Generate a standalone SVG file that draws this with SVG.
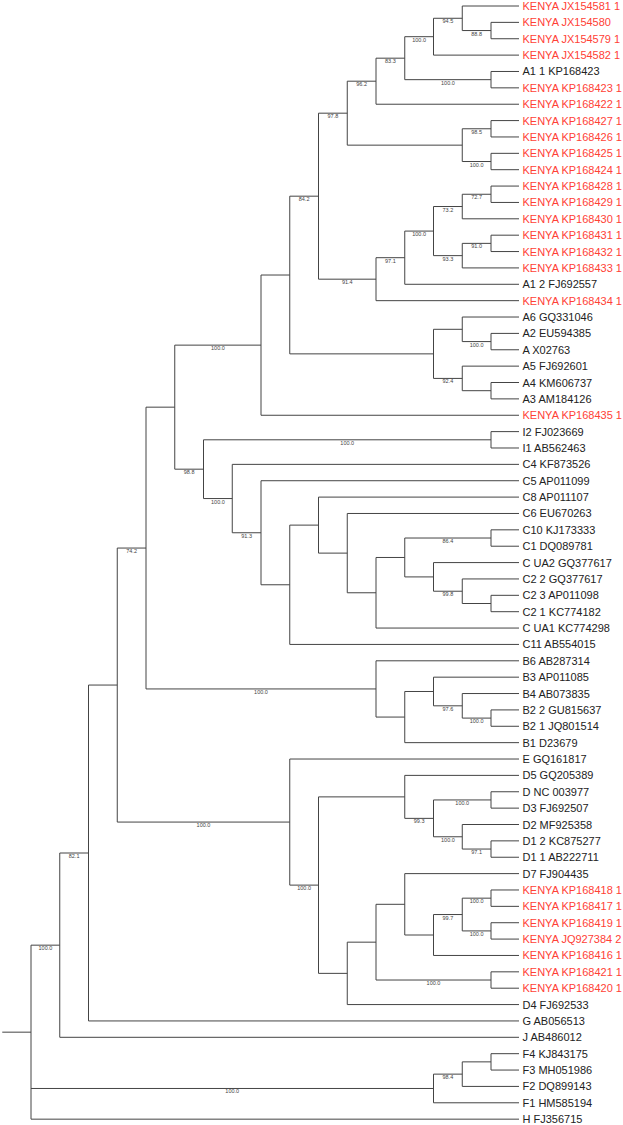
<svg xmlns="http://www.w3.org/2000/svg" width="623" height="1125" viewBox="0 0 623 1125">
<style>
.e{fill:none;stroke:#444;stroke-width:1}
.t{font-family:"Liberation Sans",Arial,sans-serif;font-size:11px;fill:#222}
.k{fill:#ff4136}
.s{font-family:"Liberation Sans",Arial,sans-serif;font-size:5.5px;fill:#444;text-anchor:middle}
</style>
<rect width="623" height="1125" fill="#fff"/>
<g id="connectors" class="e">
<path d="M2.25,1032.16H31M31,945.16V1119.16M31,945.16H59.75M31,1088.47H433.5M31,1119.16H519"/>
<path d="M59.75,853V1037.31M59.75,853H88.5M59.75,1037.31H519"/>
<path d="M88.5,685.06V1020.94M88.5,685.06H117.25M88.5,1020.94H519"/>
<path d="M117.25,548.05V822.07M117.25,548.05H146M117.25,822.07H289.75"/>
<path d="M146,407.16V688.94M146,407.16H174.75M146,688.94H376"/>
<path d="M174.75,345.14V469.18M174.75,345.14H261M174.75,469.18H203.5"/>
<path d="M261,275.02V415.25M261,275.02H289.75M261,415.25H519"/>
<path d="M289.75,196.18V353.87M289.75,196.18H318.5M289.75,353.87H433.5"/>
<path d="M318.5,113.18V279.18M318.5,113.18H347.25M318.5,279.18H376"/>
<path d="M347.25,81.2V145.15M347.25,81.2H376M347.25,145.15H462.25"/>
<path d="M376,58.18V104.22M376,58.18H404.75M376,104.22H519"/>
<path d="M404.75,36.7V79.67M404.75,36.7H433.5M404.75,79.67H491"/>
<path d="M433.5,18.28V55.11M433.5,18.28H462.25M433.5,55.11H519"/>
<path d="M462.25,6V30.56M462.25,6H519M462.25,30.56H491"/>
<path d="M491,22.37V38.74M491,22.37H519M491,38.74H519"/>
<path d="M491,71.48V87.85M491,71.48H519M491,87.85H519"/>
<path d="M462.25,128.78V161.52M462.25,128.78H491M462.25,161.52H491"/>
<path d="M491,120.59V136.96M491,120.59H519M491,136.96H519"/>
<path d="M491,153.33V169.7M491,153.33H519M491,169.7H519"/>
<path d="M376,257.69V300.66M376,257.69H404.75M376,300.66H519"/>
<path d="M404.75,231.09V284.29M404.75,231.09H433.5M404.75,284.29H519"/>
<path d="M433.5,206.53V255.64M433.5,206.53H462.25M433.5,255.64H462.25"/>
<path d="M462.25,194.26V218.81M462.25,194.26H491M462.25,218.81H519"/>
<path d="M491,186.07V202.44M491,186.07H519M491,202.44H519"/>
<path d="M462.25,243.37V267.92M462.25,243.37H491M462.25,267.92H519"/>
<path d="M491,235.18V251.55M491,235.18H519M491,251.55H519"/>
<path d="M433.5,329.31V378.42M433.5,329.31H462.25M433.5,378.42H462.25"/>
<path d="M462.25,317.03V341.59M462.25,317.03H519M462.25,341.59H491"/>
<path d="M491,333.4V349.77M491,333.4H519M491,349.77H519"/>
<path d="M462.25,366.14V390.7M462.25,366.14H519M462.25,390.7H491"/>
<path d="M491,382.51V398.88M491,382.51H519M491,398.88H519"/>
<path d="M203.5,439.81V498.56M203.5,439.81H491M203.5,498.56H232.25"/>
<path d="M491,431.62V447.99M491,431.62H519M491,447.99H519"/>
<path d="M232.25,464.36V532.75M232.25,464.36H519M232.25,532.75H261"/>
<path d="M261,480.73V584.77M261,480.73H519M261,584.77H289.75"/>
<path d="M289.75,525.11V644.43M289.75,525.11H318.5M289.75,644.43H519"/>
<path d="M318.5,497.1V553.12M318.5,497.1H519M318.5,553.12H347.25"/>
<path d="M347.25,513.47V592.77M347.25,513.47H519M347.25,592.77H376"/>
<path d="M376,557.47V628.06M376,557.47H404.75M376,628.06H519"/>
<path d="M404.75,538.03V576.91M404.75,538.03H491M404.75,576.91H433.5"/>
<path d="M491,529.84V546.21M491,529.84H519M491,546.21H519"/>
<path d="M433.5,562.58V591.23M433.5,562.58H519M433.5,591.23H462.25"/>
<path d="M462.25,578.95V603.51M462.25,578.95H519M462.25,603.51H491"/>
<path d="M491,595.32V611.69M491,595.32H519M491,611.69H519"/>
<path d="M376,660.8V717.07M376,660.8H519M376,717.07H404.75"/>
<path d="M404.75,691.49V742.65M404.75,691.49H433.5M404.75,742.65H519"/>
<path d="M433.5,677.17V705.82M433.5,677.17H519M433.5,705.82H462.25"/>
<path d="M462.25,693.54V718.1M462.25,693.54H519M462.25,718.1H491"/>
<path d="M491,709.91V726.28M491,709.91H519M491,726.28H519"/>
<path d="M289.75,759.02V885.12M289.75,759.02H519M289.75,885.12H318.5"/>
<path d="M318.5,796.88V973.37M318.5,796.88H404.75M318.5,973.37H347.25"/>
<path d="M404.75,775.39V818.37M404.75,775.39H519M404.75,818.37H433.5"/>
<path d="M433.5,799.95V836.78M433.5,799.95H491M433.5,836.78H462.25"/>
<path d="M491,791.76V808.13M491,791.76H519M491,808.13H519"/>
<path d="M462.25,824.5V849.06M462.25,824.5H519M462.25,849.06H491"/>
<path d="M491,840.87V857.24M491,840.87H519M491,857.24H519"/>
<path d="M347.25,942.16V1004.57M347.25,942.16H376M347.25,1004.57H519"/>
<path d="M376,904.31V980.02M376,904.31H404.75M376,980.02H491"/>
<path d="M404.75,873.61V935M404.75,873.61H519M404.75,935H433.5"/>
<path d="M433.5,914.54V955.46M433.5,914.54H462.25M433.5,955.46H519"/>
<path d="M462.25,898.17V930.91M462.25,898.17H491M462.25,930.91H491"/>
<path d="M491,889.98V906.35M491,889.98H519M491,906.35H519"/>
<path d="M491,922.72V939.09M491,922.72H519M491,939.09H519"/>
<path d="M491,971.83V988.2M491,971.83H519M491,988.2H519"/>
<path d="M433.5,1074.14V1102.79M433.5,1074.14H462.25M433.5,1102.79H519"/>
<path d="M462.25,1061.87V1086.42M462.25,1061.87H491M462.25,1086.42H519"/>
<path d="M491,1053.68V1070.05M491,1053.68H519M491,1070.05H519"/>
</g>
<g id="supports" class="s">
<g id="n1"><text x="476.6" y="35.56">88.8</text></g>
<g id="n2"><text x="447.9" y="23.28">94.5</text></g>
<g id="n3"><text x="419.1" y="41.7">100.0</text></g>
<g id="n4"><text x="447.9" y="84.67">100.0</text></g>
<g id="n5"><text x="390.4" y="63.18">83.3</text></g>
<g id="n6"><text x="361.6" y="86.2">96.2</text></g>
<g id="n7"><text x="476.6" y="133.78">98.5</text></g>
<g id="n7b"><text x="476.6" y="166.52">100.0</text></g>
<g id="n9"><text x="332.9" y="118.18">97.8</text></g>
<g id="n10"><text x="476.6" y="199.26">72.7</text></g>
<g id="n11"><text x="447.9" y="211.53">73.2</text></g>
<g id="n12"><text x="476.6" y="248.37">91.0</text></g>
<g id="n13"><text x="447.9" y="260.64">93.3</text></g>
<g id="n14"><text x="419.1" y="236.09">100.0</text></g>
<g id="n15"><text x="390.4" y="262.69">97.1</text></g>
<g id="n16"><text x="347.25" y="284.18">91.4</text></g>
<g id="n20"><text x="304.1" y="201.18">84.2</text></g>
<g id="n21"><text x="476.6" y="346.59">100.0</text></g>
<g id="n24"><text x="447.9" y="383.42">92.4</text></g>
<g id="n31"><text x="217.9" y="350.14">100.0</text></g>
<g id="n32"><text x="347.25" y="444.81">100.0</text></g>
<g id="n33"><text x="447.9" y="543.03">86.4</text></g>
<g id="n34b"><text x="447.9" y="596.23">99.8</text></g>
<g id="n37d"><text x="246.6" y="537.75">91.3</text></g>
<g id="n37e"><text x="217.9" y="503.56">100.0</text></g>
<g id="n38"><text x="189.1" y="474.18">98.8</text></g>
<g id="n41"><text x="131.6" y="553.05">74.2</text></g>
<g id="n50"><text x="476.6" y="723.1">100.0</text></g>
<g id="n51"><text x="447.9" y="710.82">97.6</text></g>
<g id="n54"><text x="261" y="693.94">100.0</text></g>
<g id="n60"><text x="462.25" y="804.95">100.0</text></g>
<g id="n61a"><text x="476.6" y="854.06">97.1</text></g>
<g id="n61b"><text x="447.9" y="841.78">100.0</text></g>
<g id="n62"><text x="419.1" y="823.37">99.3</text></g>
<g id="n64"><text x="476.6" y="903.17">100.0</text></g>
<g id="n65"><text x="476.6" y="935.91">100.0</text></g>
<g id="n66"><text x="447.9" y="919.54">99.7</text></g>
<g id="n68b"><text x="433.5" y="985.02">100.0</text></g>
<g id="n70"><text x="304.1" y="890.12">100.0</text></g>
<g id="n71"><text x="203.5" y="827.07">100.0</text></g>
<g id="n43"><text x="74.1" y="858">82.1</text></g>
<g id="n44"><text x="45.4" y="950.16">100.0</text></g>
<g id="n81"><text x="447.9" y="1079.14">98.4</text></g>
<g id="n82"><text x="232.25" y="1093.47">100.0</text></g>
</g>
<g id="leaves" class="t">
<g id="l1"><text class="k" x="522.5" y="10">KENYA JX154581 1</text></g>
<g id="l2"><text class="k" x="522.5" y="26.37">KENYA JX154580</text></g>
<g id="l3"><text class="k" x="522.5" y="42.74">KENYA JX154579 1</text></g>
<g id="l4"><text class="k" x="522.5" y="59.11">KENYA JX154582 1</text></g>
<g id="l5"><text x="522.5" y="75.48">A1 1 KP168423</text></g>
<g id="l6"><text class="k" x="522.5" y="91.85">KENYA KP168423 1</text></g>
<g id="l7"><text class="k" x="522.5" y="108.22">KENYA KP168422 1</text></g>
<g id="l8"><text class="k" x="522.5" y="124.59">KENYA KP168427 1</text></g>
<g id="l9"><text class="k" x="522.5" y="140.96">KENYA KP168426 1</text></g>
<g id="l10"><text class="k" x="522.5" y="157.33">KENYA KP168425 1</text></g>
<g id="l11"><text class="k" x="522.5" y="173.7">KENYA KP168424 1</text></g>
<g id="l12"><text class="k" x="522.5" y="190.07">KENYA KP168428 1</text></g>
<g id="l13"><text class="k" x="522.5" y="206.44">KENYA KP168429 1</text></g>
<g id="l14"><text class="k" x="522.5" y="222.81">KENYA KP168430 1</text></g>
<g id="l15"><text class="k" x="522.5" y="239.18">KENYA KP168431 1</text></g>
<g id="l16"><text class="k" x="522.5" y="255.55">KENYA KP168432 1</text></g>
<g id="l17"><text class="k" x="522.5" y="271.92">KENYA KP168433 1</text></g>
<g id="l18"><text x="522.5" y="288.29">A1 2 FJ692557</text></g>
<g id="l19"><text class="k" x="522.5" y="304.66">KENYA KP168434 1</text></g>
<g id="l20"><text x="522.5" y="321.03">A6 GQ331046</text></g>
<g id="l21"><text x="522.5" y="337.4">A2 EU594385</text></g>
<g id="l22"><text x="522.5" y="353.77">A X02763</text></g>
<g id="l23"><text x="522.5" y="370.14">A5 FJ692601</text></g>
<g id="l24"><text x="522.5" y="386.51">A4 KM606737</text></g>
<g id="l25"><text x="522.5" y="402.88">A3 AM184126</text></g>
<g id="l26"><text class="k" x="522.5" y="419.25">KENYA KP168435 1</text></g>
<g id="l27"><text x="522.5" y="435.62">I2 FJ023669</text></g>
<g id="l28"><text x="522.5" y="451.99">I1 AB562463</text></g>
<g id="l29"><text x="522.5" y="468.36">C4 KF873526</text></g>
<g id="l30"><text x="522.5" y="484.73">C5 AP011099</text></g>
<g id="l31"><text x="522.5" y="501.1">C8 AP011107</text></g>
<g id="l32"><text x="522.5" y="517.47">C6 EU670263</text></g>
<g id="l33"><text x="522.5" y="533.84">C10 KJ173333</text></g>
<g id="l34"><text x="522.5" y="550.21">C1 DQ089781</text></g>
<g id="l35"><text x="522.5" y="566.58">C UA2 GQ377617</text></g>
<g id="l36"><text x="522.5" y="582.95">C2 2 GQ377617</text></g>
<g id="l37"><text x="522.5" y="599.32">C2 3 AP011098</text></g>
<g id="l38"><text x="522.5" y="615.69">C2 1 KC774182</text></g>
<g id="l39"><text x="522.5" y="632.06">C UA1 KC774298</text></g>
<g id="l40"><text x="522.5" y="648.43">C11 AB554015</text></g>
<g id="l41"><text x="522.5" y="664.8">B6 AB287314</text></g>
<g id="l42"><text x="522.5" y="681.17">B3 AP011085</text></g>
<g id="l43"><text x="522.5" y="697.54">B4 AB073835</text></g>
<g id="l44"><text x="522.5" y="713.91">B2 2 GU815637</text></g>
<g id="l45"><text x="522.5" y="730.28">B2 1 JQ801514</text></g>
<g id="l46"><text x="522.5" y="746.65">B1 D23679</text></g>
<g id="l47"><text x="522.5" y="763.02">E GQ161817</text></g>
<g id="l48"><text x="522.5" y="779.39">D5 GQ205389</text></g>
<g id="l49"><text x="522.5" y="795.76">D NC 003977</text></g>
<g id="l50"><text x="522.5" y="812.13">D3 FJ692507</text></g>
<g id="l51"><text x="522.5" y="828.5">D2 MF925358</text></g>
<g id="l52"><text x="522.5" y="844.87">D1 2 KC875277</text></g>
<g id="l53"><text x="522.5" y="861.24">D1 1 AB222711</text></g>
<g id="l54"><text x="522.5" y="877.61">D7 FJ904435</text></g>
<g id="l55"><text class="k" x="522.5" y="893.98">KENYA KP168418 1</text></g>
<g id="l56"><text class="k" x="522.5" y="910.35">KENYA KP168417 1</text></g>
<g id="l57"><text class="k" x="522.5" y="926.72">KENYA KP168419 1</text></g>
<g id="l58"><text class="k" x="522.5" y="943.09">KENYA JQ927384 2</text></g>
<g id="l59"><text class="k" x="522.5" y="959.46">KENYA KP168416 1</text></g>
<g id="l60"><text class="k" x="522.5" y="975.83">KENYA KP168421 1</text></g>
<g id="l61"><text class="k" x="522.5" y="992.2">KENYA KP168420 1</text></g>
<g id="l62"><text x="522.5" y="1008.57">D4 FJ692533</text></g>
<g id="l63"><text x="522.5" y="1024.94">G AB056513</text></g>
<g id="l64"><text x="522.5" y="1041.31">J AB486012</text></g>
<g id="l65"><text x="522.5" y="1057.68">F4 KJ843175</text></g>
<g id="l66"><text x="522.5" y="1074.05">F3 MH051986</text></g>
<g id="l67"><text x="522.5" y="1090.42">F2 DQ899143</text></g>
<g id="l68"><text x="522.5" y="1106.79">F1 HM585194</text></g>
<g id="l69"><text x="522.5" y="1123.16">H FJ356715</text></g>
</g>
</svg>
